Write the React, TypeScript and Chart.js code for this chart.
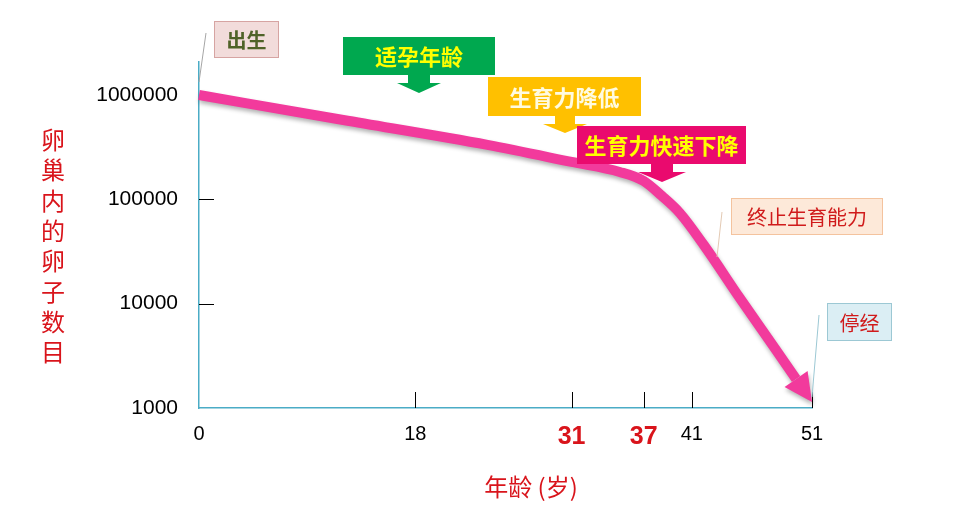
import { useEffect, useRef } from "react";
import { Chart, registerables } from "chart.js";

Chart.register(...registerables);

// ovarian egg count by age
const AGES = [0, 12, 24, 31, 35, 37, 38.5, 40, 42, 45, 48, 51];
const EGG_COUNTS = [1000000, 575000, 332000, 228000, 183000, 150000, 108000, 74000, 36500, 11300, 3600, 1140];
const X_TICKS = [0, 18, 31, 37, 41, 51];
const HIGHLIGHT_AGES = [31, 37];
const Y_TICKS = [1000, 10000, 100000, 1000000];
const Y_TITLE = "卵巢内的卵子数目";
const X_TITLE = "年龄 (岁)";

const CJK = '"Noto Sans CJK SC", "Noto Sans", sans-serif';
const NUM = '"Liberation Sans", Arial, sans-serif';
const LINE_COLOR = "#F23A9C";
const AXIS_COLOR = "#4BACC6";
const RED = "#D9141B";

type Callout = {
  text: string;
  box: [number, number, number, number];
  fill: string;
  stroke?: string;
  color: string;
  font: string;
  arrow?: { cx: number; stemW: number; stemBottom: number; headW: number; tip: number };
  leader?: [number, number, number, number];
  leaderColor?: string;
};

const callouts: Callout[] = [
  { text: "出生", box: [214, 21, 65, 37], fill: "#F2DCDB", stroke: "#D6A4A2", color: "#4F6228", font: `bold 20px ${CJK}`, leader: [206, 33, 199, 82], leaderColor: "#A6A6A6" },
  { text: "适孕年龄", box: [343, 37, 152, 38], fill: "#00A84F", color: "#FFFF00", font: `bold 22px ${CJK}`, arrow: { cx: 419, stemW: 22, stemBottom: 83, headW: 44, tip: 93 } },
  { text: "生育力降低", box: [488, 77, 153, 39], fill: "#FFC000", color: "#FFFBE0", font: `bold 22px ${CJK}`, arrow: { cx: 565, stemW: 20, stemBottom: 124, headW: 44, tip: 133 } },
  { text: "生育力快速下降", box: [577, 126, 169, 38], fill: "#EA0A6E", color: "#FFFF00", font: `bold 22px ${CJK}`, arrow: { cx: 662, stemW: 22, stemBottom: 172, headW: 48, tip: 182 } },
  { text: "终止生育能力", box: [731, 198, 152, 37], fill: "#FDE9D9", stroke: "#F4C39E", color: "#D01B1B", font: `20px ${CJK}`, leader: [722, 212, 717, 257], leaderColor: "#E3C9B3" },
  { text: "停经", box: [827, 303, 65, 38], fill: "#DBEEF4", stroke: "#9CC8D4", color: "#D01B1B", font: `20px ${CJK}`, leader: [819, 315, 812, 397], leaderColor: "#9CC8D4" },
];

function arrowGeom(chart: Chart) {
  const pts = chart.getDatasetMeta(0).data;
  const a = pts[pts.length - 2];
  const b = pts[pts.length - 1];
  const dx = b.x - a.x;
  const dy = b.y - a.y;
  const len = Math.hypot(dx, dy) || 1;
  const ux = dx / len;
  const uy = dy / len;
  return { tx: b.x, ty: b.y, ux, uy, px: -uy, py: ux };
}

const HEAD_LEN = 28;
const HEAD_HALF = 14;

const decorations = {
  id: "decorations",
  beforeDatasetDraw(chart: Chart) {
    const ctx = chart.ctx;
    const g = arrowGeom(chart);
    const bx = g.tx - g.ux * HEAD_LEN;
    const by = g.ty - g.uy * HEAD_LEN;
    ctx.save();
    ctx.beginPath();
    ctx.rect(0, 0, chart.width, chart.height);
    ctx.moveTo(bx + g.px * 40, by + g.py * 40);
    ctx.lineTo(g.tx + g.ux * 30 + g.px * 40, g.ty + g.uy * 30 + g.py * 40);
    ctx.lineTo(g.tx + g.ux * 30 - g.px * 40, g.ty + g.uy * 30 - g.py * 40);
    ctx.lineTo(bx - g.px * 40, by - g.py * 40);
    ctx.closePath();
    ctx.clip("evenodd");
    ctx.shadowColor = "rgba(0,0,0,0.3)";
    ctx.shadowBlur = 4;
    ctx.shadowOffsetX = 1;
    ctx.shadowOffsetY = 3;
  },
  afterDatasetDraw(chart: Chart) {
    const ctx = chart.ctx;
    ctx.restore();
    const g = arrowGeom(chart);
    const bx = g.tx - g.ux * HEAD_LEN;
    const by = g.ty - g.uy * HEAD_LEN;
    ctx.save();
    ctx.shadowColor = "rgba(0,0,0,0.3)";
    ctx.shadowBlur = 4;
    ctx.shadowOffsetX = 1;
    ctx.shadowOffsetY = 3;
    ctx.fillStyle = LINE_COLOR;
    ctx.beginPath();
    ctx.moveTo(g.tx, g.ty);
    ctx.lineTo(bx + g.px * HEAD_HALF, by + g.py * HEAD_HALF);
    ctx.lineTo(bx - g.px * HEAD_HALF, by - g.py * HEAD_HALF);
    ctx.closePath();
    ctx.fill();
    ctx.restore();
  },
  afterDraw(chart: Chart) {
    const ctx = chart.ctx;
    const area = chart.chartArea;
    const sx = chart.scales.x;
    const sy = chart.scales.y;
    ctx.save();

    // inner tick marks
    ctx.strokeStyle = "#000";
    ctx.lineWidth = 1;
    ctx.beginPath();
    X_TICKS.filter((v) => v !== 0).forEach((v) => {
      const px = Math.round(sx.getPixelForValue(v)) + 0.5;
      ctx.moveTo(px, area.bottom);
      ctx.lineTo(px, area.bottom - 16);
    });
    Y_TICKS.filter((v) => v !== 1000 && v !== 1000000).forEach((v) => {
      const py = Math.round(sy.getPixelForValue(v)) + 0.5;
      ctx.moveTo(area.left, py);
      ctx.lineTo(area.left + 15, py);
    });
    ctx.stroke();

    // stacked y title
    ctx.fillStyle = RED;
    ctx.font = `24px ${CJK}`;
    ctx.textAlign = "center";
    ctx.textBaseline = "middle";
    Array.from(Y_TITLE).forEach((ch, i) => ctx.fillText(ch, 53, 140 + i * 30.3));

    // x title
    ctx.font = `24px ${CJK}`;
    ctx.fillText(X_TITLE, 531, 487);

    // callouts
    callouts.forEach((c) => {
      const [x, y, w, h] = c.box;
      if (c.leader) {
        ctx.strokeStyle = c.leaderColor || "#999";
        ctx.lineWidth = 1;
        ctx.beginPath();
        ctx.moveTo(c.leader[0], c.leader[1]);
        ctx.lineTo(c.leader[2], c.leader[3]);
        ctx.stroke();
      }
      ctx.fillStyle = c.fill;
      ctx.fillRect(x, y, w, h);
      if (c.stroke) {
        ctx.strokeStyle = c.stroke;
        ctx.lineWidth = 1;
        ctx.strokeRect(x + 0.5, y + 0.5, w - 1, h - 1);
      }
      if (c.arrow) {
        const a = c.arrow;
        const bottom = y + h;
        ctx.beginPath();
        ctx.moveTo(a.cx - a.stemW / 2, bottom - 1);
        ctx.lineTo(a.cx + a.stemW / 2, bottom - 1);
        ctx.lineTo(a.cx + a.stemW / 2, a.stemBottom);
        ctx.lineTo(a.cx + a.headW / 2, a.stemBottom);
        ctx.lineTo(a.cx, a.tip);
        ctx.lineTo(a.cx - a.headW / 2, a.stemBottom);
        ctx.lineTo(a.cx - a.stemW / 2, a.stemBottom);
        ctx.closePath();
        ctx.fill();
      }
      ctx.fillStyle = c.color;
      ctx.font = c.font;
      ctx.textAlign = "center";
      ctx.textBaseline = "middle";
      ctx.fillText(c.text, x + w / 2, y + h / 2 + 1);
    });

    ctx.restore();
  },
};

export default function App() {
  const canvasRef = useRef<HTMLCanvasElement>(null);
  const chartRef = useRef<Chart | null>(null);

  useEffect(() => {
    if (!canvasRef.current) return;
    chartRef.current?.destroy();

    chartRef.current = new Chart(canvasRef.current, {
      type: "line",
      data: {
        datasets: [{
          label: "卵子数目",
          data: AGES.map((a, i) => ({ x: a, y: EGG_COUNTS[i] })),
          borderColor: LINE_COLOR,
          borderWidth: 10,
          pointRadius: 0,
          cubicInterpolationMode: "monotone",
          clip: false,
        }],
      },
      options: {
        responsive: true,
        maintainAspectRatio: false,
        animation: false,
        layout: { padding: { left: 0, top: 62, right: 146, bottom: 0 } },
        plugins: { legend: { display: false }, tooltip: { enabled: false } },
        scales: {
          x: {
            type: "linear",
            min: 0,
            max: 51,
            afterFit: (s: any) => { s.height = 99; },
            afterBuildTicks: (s: any) => { s.ticks = X_TICKS.map((v) => ({ value: v })); },
            grid: { display: false, drawTicks: false },
            border: { display: true, color: AXIS_COLOR, width: 1.5 },
            ticks: {
              padding: 14,
              maxRotation: 0,
              autoSkip: false,
              callback: (v: any) => String(v),
              color: (c: any) => (HIGHLIGHT_AGES.includes(c.tick?.value) ? RED : "#000"),
              font: (c: any) => (HIGHLIGHT_AGES.includes(c.tick?.value)
                ? { family: NUM, size: 25, weight: "bold" }
                : { family: NUM, size: 20 }),
            },
          },
          y: {
            type: "logarithmic",
            min: 1000,
            max: 2070000,
            afterFit: (s: any) => { s.width = 199; },
            afterBuildTicks: (s: any) => { s.ticks = Y_TICKS.map((v) => ({ value: v })); },
            grid: { display: false, drawTicks: false },
            border: { display: true, color: AXIS_COLOR, width: 1.5 },
            ticks: {
              padding: 21,
              autoSkip: false,
              callback: (v: any) => String(v),
              color: "#000",
              font: { family: NUM, size: 21 },
            },
          },
        },
      },
      plugins: [decorations],
    });

    return () => { chartRef.current?.destroy(); };
  }, []);

  return (
    <div style={{ position: "fixed", left: 0, top: 0, width: 958, height: 507, background: "#fff" }}>
      <canvas ref={canvasRef} />
    </div>
  );
}
